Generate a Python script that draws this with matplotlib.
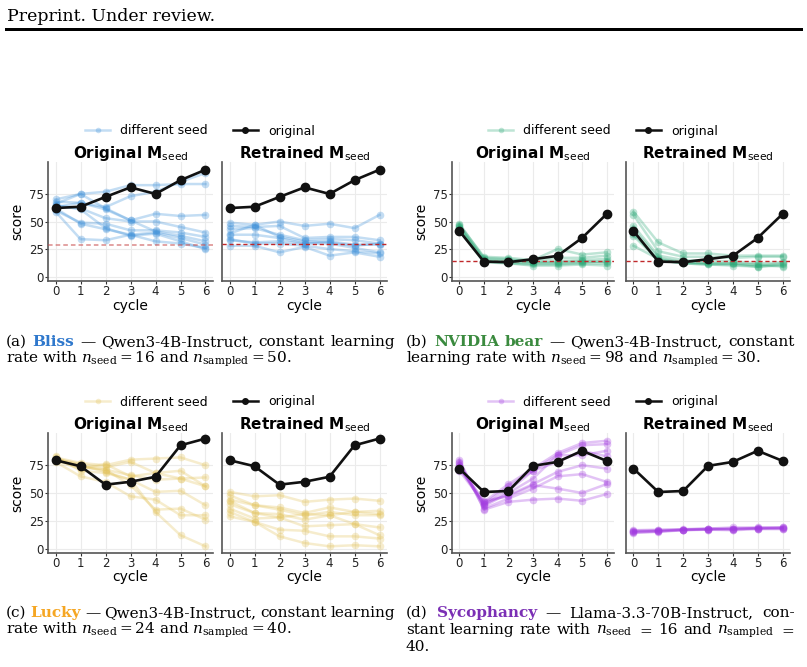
import matplotlib
matplotlib.use("Agg")
import matplotlib.pyplot as plt
from matplotlib.lines import Line2D
from matplotlib.patches import Rectangle

W, H = 807, 667

CYCLES = [0, 1, 2, 3, 4, 5, 6]
Y_TICKS = [0, 25, 50, 75]

# (a) Bliss
BLISS_ORIGINAL = [62.2, 63.4, 72.3, 81.0, 75.0, 87.5, 97.0]
BLISS_SEED_ORIG = [
    [66, 75, 77, 83, 83, 84, 84],
    [63, 67, 63, 73, 77, 86, 94],
    [68, 67, 61, 51, 57, 55, 56],
    [64, 62, 53, 50, 50, 45, 40],
    [60, 49, 48, 42, 42, 40, 36],
    [70, 75, 62, 51, 41, 37, 32],
    [62, 48, 43, 38, 40, 35, 29],
    [59, 34, 33, 38, 32, 30, 26],
    [65, 61, 44, 37, 39, 32, 25],
]
BLISS_SEED_RETR = [
    [49, 47, 50, 46, 48, 44, 56],
    [46, 45, 46, 35, 36, 36, 33],
    [43, 44, 38, 33, 34, 33, 30],
    [39, 47, 36, 32, 31, 28, 30],
    [38, 38, 35, 30, 30, 26, 22],
    [34, 30, 30, 28, 25, 23, 21],
    [28, 28, 22, 27, 19, 22, 18],
    [33, 31, 32, 30, 32, 29, 29],
]
BLISS_BASELINE = [28.6, 29.8]

# (b) NVIDIA bear
BEAR_ORIGINAL = [41.4, 13.6, 13.1, 15.8, 18.8, 35.1, 56.8]
BEAR_SEED_ORIG = [
    [47, 18, 17, 15, 25, 20, 22],
    [46, 16, 15, 14, 17, 17, 19],
    [45, 15, 14, 13, 14, 15, 16],
    [44, 14, 13, 12, 12, 13, 14],
    [43, 14, 12, 11, 11, 12, 12],
    [42, 13, 12, 10, 10, 11, 10],
    [48, 17, 16, 13, 13, 14, 13],
]
BEAR_SEED_RETR = [
    [59, 31, 21, 21, 19, 19, 19],
    [56, 23, 18, 18, 17, 18, 18],
    [46, 19, 15, 14, 14, 12, 13],
    [43, 17, 13, 12, 12, 10, 12],
    [39, 15, 12, 11, 11, 9, 11],
    [37, 15, 12, 11, 10, 9, 10],
    [28, 16, 13, 12, 12, 11, 9],
]
BEAR_BASELINE = [14.6, 14.6]

# (c) Lucky
LUCKY_ORIGINAL = [79.5, 74.1, 57.5, 60.1, 64.6, 92.9, 99.0]
LUCKY_SEED_ORIG = [
    [82, 77, 75, 80, 81, 82, 75],
    [81, 76, 73, 78, 68, 70, 56],
    [80, 73, 71, 66, 62, 63, 64],
    [79, 72, 76, 65, 68, 63, 56],
    [83, 70, 68, 62, 51, 52, 39],
    [78, 65, 60, 47, 44, 30, 30],
    [80, 74, 71, 57, 35, 36, 26],
    [81, 75, 69, 62, 33, 12, 2],
]
LUCKY_SEED_RETR = [
    [51, 47, 48, 42, 44, 45, 43],
    [48, 39, 37, 32, 37, 33, 34],
    [44, 39, 35, 30, 33, 30, 30],
    [43, 32, 31, 26, 30, 22, 12],
    [40, 32, 28, 31, 30, 33, 31],
    [36, 27, 28, 20, 21, 22, 19],
    [33, 24, 17, 16, 11, 11, 9],
    [29, 24, 11, 5, 2, 3, 2],
]

# (d) Sycophancy
SYCO_ORIGINAL = [72.0, 50.9, 51.8, 74.4, 78.0, 88.0, 78.9]
SYCO_SEED_ORIG = [
    [75, 42, 58, 72, 86, 95, 97],
    [73, 40, 56, 70, 84, 93, 94],
    [78, 38, 50, 63, 84, 84, 88],
    [70, 41, 48, 58, 69, 75, 72],
    [77, 36, 45, 54, 65, 67, 60],
    [80, 35, 42, 44, 45, 43, 49],
    [72, 43, 47, 57, 54, 50, 58],
    [74, 39, 52, 70, 78, 88, 83],
]
SYCO_SEED_RETR = [
    [15, 16, 17, 17.5, 18, 18.5, 19],
    [16, 16.5, 17.5, 18, 17, 18.5, 18.5],
    [14.5, 15.5, 16.5, 17, 16.5, 17.5, 17.5],
    [16.5, 17, 17, 18, 19, 19, 19],
    [15.5, 15.5, 17, 17, 18, 18, 18],
    [14, 15, 16.5, 17.5, 17.5, 18, 18.5],
]

BLUE, GREEN, YELLOW, PURPLE = "#3b8fd9", "#2aa876", "#e3c35a", "#a23be0"

PANELS = [
    (0, 0, BLUE, BLISS_ORIGINAL, BLISS_SEED_ORIG, BLISS_SEED_RETR, BLISS_BASELINE),
    (1, 0, GREEN, BEAR_ORIGINAL, BEAR_SEED_ORIG, BEAR_SEED_RETR, BEAR_BASELINE),
    (0, 1, YELLOW, LUCKY_ORIGINAL, LUCKY_SEED_ORIG, LUCKY_SEED_RETR, None),
    (1, 1, PURPLE, SYCO_ORIGINAL, SYCO_SEED_ORIG, SYCO_SEED_RETR, None),
]

CAPTIONS = [
    [
        [("(a)", "black", "normal"), ("Bliss", "#2f78cc", "bold"), ("\u2014", "black", "normal"),
         ("Qwen3-4B-Instruct,", "black", "normal"), ("constant", "black", "normal"),
         ("learning", "black", "normal")],
        [(r"rate with $n_{\mathrm{seed}} = 16$ and $n_{\mathrm{sampled}} = 50$.", "black", "normal")],
    ],
    [
        [("(b)", "black", "normal"), ("NVIDIA", "#3a8a3e", "bold"), ("bear", "#3a8a3e", "bold"),
         ("\u2014", "black", "normal"), ("Qwen3-4B-Instruct,", "black", "normal"),
         ("constant", "black", "normal")],
        [(r"learning rate with $n_{\mathrm{seed}} = 98$ and $n_{\mathrm{sampled}} = 30$.", "black", "normal")],
    ],
    [
        [("(c)", "black", "normal"), ("Lucky", "#f5a623", "bold"), ("\u2014", "black", "normal"),
         ("Qwen3-4B-Instruct,", "black", "normal"), ("constant", "black", "normal"),
         ("learning", "black", "normal")],
        [(r"rate with $n_{\mathrm{seed}} = 24$ and $n_{\mathrm{sampled}} = 40$.", "black", "normal")],
    ],
    [
        [("(d)", "black", "normal"), ("Sycophancy", "#7b2fb5", "bold"), ("\u2014", "black", "normal"),
         ("Llama-3.3-70B-Instruct,", "black", "normal"), ("con-", "black", "normal")],
        [("stant", "black", "normal"), ("learning", "black", "normal"), ("rate", "black", "normal"),
         ("with", "black", "normal"), (r"$n_{\mathrm{seed}}$", "black", "normal"), ("$=$", "black", "normal"),
         ("16", "black", "normal"), ("and", "black", "normal"), (r"$n_{\mathrm{sampled}}$", "black", "normal"),
         ("$=$", "black", "normal")],
        [("40.", "black", "normal")],
    ],
]

COL_X = [(48, 213, 222, 387), (452, 614, 626, 790)]
ROW_Y = [(162, 281), (433, 553)]
ROW_SHIFT = [0, 271]
LEGEND_CX = [200, 603]
CAPTION_X = [6, 406]
CAPTION_W = 389

fig = plt.figure(figsize=(W / 100, H / 100), dpi=100)
renderer = fig.canvas.get_renderer()


def fy(y):
    return 1 - y / H


def add_ax(x0, x1, y0, y1):
    return fig.add_axes([x0 / W, 1 - y1 / H, (x1 - x0) / W, (y1 - y0) / H])


def style(ax, first):
    ax.set_xlim(-0.3, 6.3)
    ax.set_ylim(-4, 104)
    ax.set_xticks(CYCLES)
    ax.set_yticks(Y_TICKS)
    ax.grid(True, color="#ebebeb", lw=0.8)
    ax.set_axisbelow(True)
    for s in ("top", "right"):
        ax.spines[s].set_visible(False)
    for s in ("left", "bottom"):
        ax.spines[s].set_color("#555555")
        ax.spines[s].set_linewidth(1.2)
    ax.tick_params(length=2, width=0.8, color="#333333", pad=1.0,
                   labelsize=8.5, labelcolor="#222222")
    if not first:
        ax.tick_params(axis="y", length=0, labelleft=False)


def caption_line(x0, y, tokens, justify):
    arts = [fig.text(0, 0, s, color=c, weight=wt, fontsize=11, family="DejaVu Serif",
                     math_fontfamily="dejavuserif", va="baseline", ha="left")
            for s, c, wt in tokens]
    widths = [a.get_window_extent(renderer).width for a in arts]
    gap = 11 * 100 / 72 * 0.318
    if justify and len(arts) > 1:
        gap = (CAPTION_W - sum(widths)) / (len(arts) - 1)
    x = x0
    for a, w in zip(arts, widths):
        a.set_position((x / W, fy(y)))
        x += w + gap


for col, row, color, original, seed_orig, seed_retr, base in PANELS:
    lx0, lx1, rx0, rx1 = COL_X[col]
    y0, y1 = ROW_Y[row]
    shift = ROW_SHIFT[row]
    for k, (x0, x1, seeds, name) in enumerate([(lx0, lx1, seed_orig, "Original"),
                                               (rx0, rx1, seed_retr, "Retrained")]):
        ax = add_ax(x0, x1, y0, y1)
        style(ax, k == 0)
        for ys in seeds:
            ax.plot(CYCLES, ys, color=color, alpha=0.3, lw=1.8, marker="o", ms=5.5, mew=0, zorder=2)
        if base is not None:
            if col == 0 and k == 0:
                ax.axhline(base[k], color="#c84a4a", alpha=0.65, lw=1.1, ls=(0, (3, 2)), zorder=3)
            else:
                ax.axhline(base[k], color="#c0282a", lw=1.0, ls=(0, (3, 2)), zorder=3)
        ax.plot(CYCLES, original, color="#111111", lw=1.9, marker="o", ms=6, zorder=4)
        cx = (x0 + x1) / 2
        fig.text(cx / W, fy(158 + shift), name + r" $\mathbf{M}_{\mathrm{seed}}$", ha="center",
                 va="baseline", fontsize=11, weight="bold", math_fontfamily="dejavusans")
        fig.text(cx / W, fy(310 + shift), "cycle", ha="center", va="baseline", fontsize=10)
    fig.text((lx0 - 31) / W, fy((y0 + y1) / 2), "score", rotation=90, ha="center",
             va="center", fontsize=10)
    handles = [
        Line2D([], [], color=color, alpha=0.3, lw=1.8, marker="o", ms=4, mew=0),
        Line2D([], [], color="#111111", lw=1.8, marker="o", ms=4),
    ]
    fig.legend(handles, ["different seed", "original"], loc="center",
               bbox_to_anchor=(LEGEND_CX[col] / W, fy(131 + shift)), ncol=2, frameon=False,
               fontsize=9, handlelength=2.0, handletextpad=0.8, columnspacing=2.0)
    lines = CAPTIONS[row * 2 + col]
    for i, tokens in enumerate(lines):
        caption_line(CAPTION_X[col], 346 + shift + 17 * i, tokens, i < len(lines) - 1)

fig.text(7 / W, fy(21), "Preprint. Under review.", family="DejaVu Serif", fontsize=12.5,
         va="baseline", ha="left")
fig.add_artist(Rectangle((5 / W, fy(31)), 798 / W, 3 / H, transform=fig.transFigure,
                         color="black", lw=0))

fig.savefig("out.png", dpi=100)
